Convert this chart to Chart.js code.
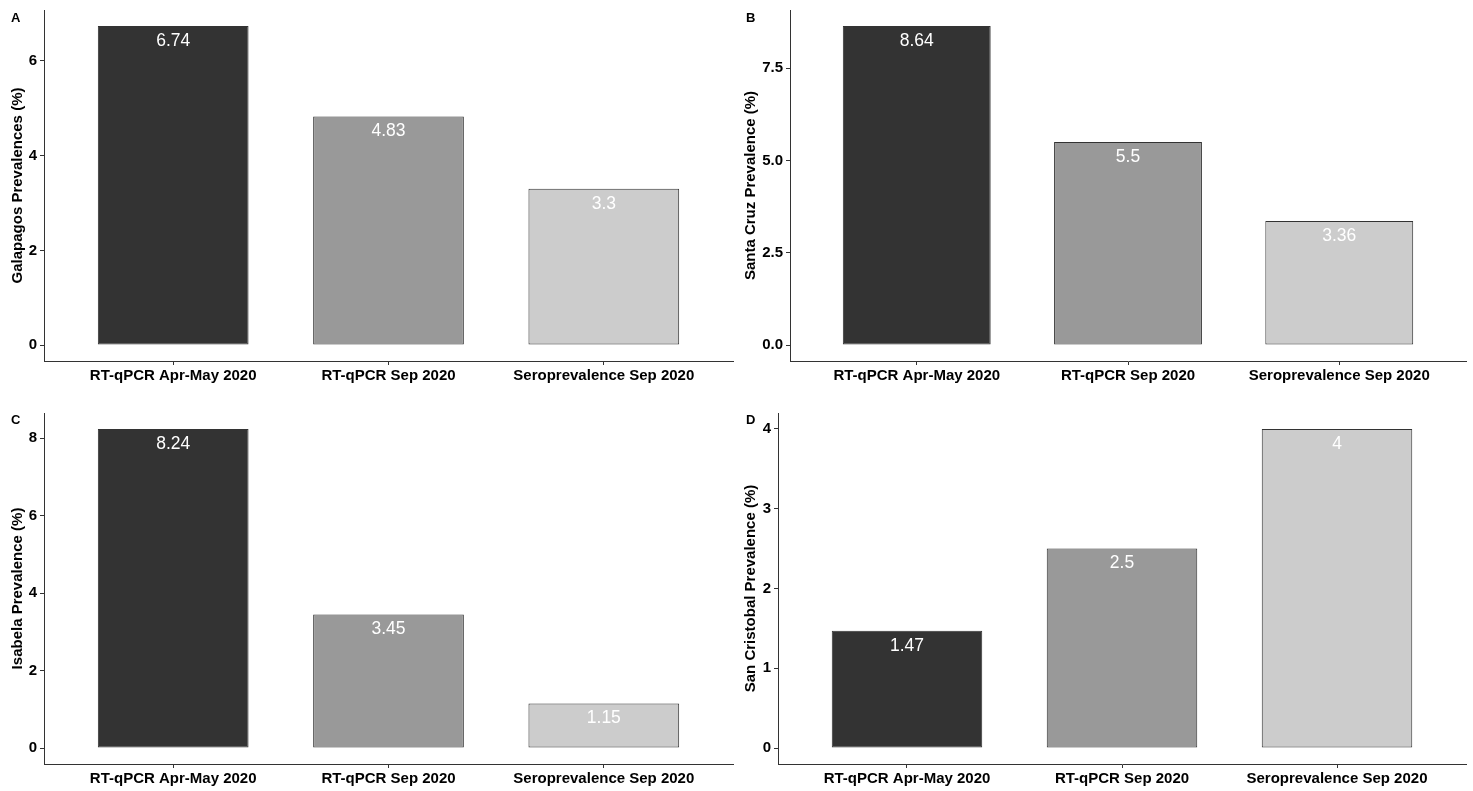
<!DOCTYPE html>
<html lang="en">
<head>
  <meta charset="UTF-8">
  <title>Prevalence panels</title>
  <script src="https://cdn.jsdelivr.net/npm/chart.js"></script>
  <style>
    html, body { margin: 0; padding: 0; background: #fff; }
    body { width: 1473px; height: 791px; position: relative; overflow: hidden; font-family: "Liberation Sans", Arial, sans-serif; }
    .panel { position: absolute; }
    .tag { position: absolute; font-weight: bold; font-size: 13px; color: #000; }
  </style>
</head>
<body>
  <div class="panel" style="left:0;top:0;width:740px;height:392px"><canvas id="chartA"></canvas></div>
  <div class="panel" style="left:733px;top:0;width:740px;height:392px"><canvas id="chartB"></canvas></div>
  <div class="panel" style="left:0;top:400px;width:740px;height:391px"><canvas id="chartC"></canvas></div>
  <div class="panel" style="left:733px;top:400px;width:740px;height:391px"><canvas id="chartD"></canvas></div>

  <div class="tag" style="left:11px;top:10px">A</div>
  <div class="tag" style="left:746px;top:10px">B</div>
  <div class="tag" style="left:11px;top:412px">C</div>
  <div class="tag" style="left:746px;top:412px">D</div>

  <script>
    // data
    const categories = ['RT-qPCR Apr-May 2020', 'RT-qPCR Sep 2020', 'Seroprevalence Sep 2020'];
    const galapagos = [6.74, 4.83, 3.3];
    const santaCruz = [8.64, 5.5, 3.36];
    const isabela = [8.24, 3.45, 1.15];
    const sanCristobal = [1.47, 2.5, 4];

    const ticksA = [0, 2, 4, 6];
    const ticksB = [0, 2.5, 5, 7.5];
    const ticksC = [0, 2, 4, 6, 8];
    const ticksD = [0, 1, 2, 3, 4];

    const barColors = ['#333333', '#999999', '#CCCCCC'];
    const FONT = '"Liberation Sans", Arial, sans-serif';

    // white value labels just inside the top of each bar
    const valueLabels = {
      id: 'valueLabels',
      afterDatasetsDraw(chart) {
        const ctx = chart.ctx;
        const ds = chart.data.datasets[0];
        ctx.save();
        ctx.font = '17.5px ' + FONT;
        ctx.fillStyle = '#ffffff';
        ctx.textAlign = 'center';
        ctx.textBaseline = 'middle';
        chart.getDatasetMeta(0).data.forEach((bar, i) => {
          ctx.fillText(String(ds.data[i].y), bar.x, bar.y + 15);
        });
        ctx.restore();
      }
    };

    function makePanel(id, values, yTicks, title, yWidth, padTop, xHeight, decimals) {
      const top = Math.max(...values);
      new Chart(document.getElementById(id), {
        type: 'bar',
        data: {
          datasets: [{
            data: values.map((v, i) => ({ x: i + 1, y: v })),
            backgroundColor: barColors,
            borderColor: '#333333',
            borderWidth: 1,
            borderSkipped: false,
            categoryPercentage: 1,
            barPercentage: 0.7
          }]
        },
        options: {
          responsive: true,
          maintainAspectRatio: false,
          animation: false,
          layout: { padding: { top: padTop, right: 7, left: 0, bottom: 0 } },
          plugins: { legend: { display: false }, tooltip: { enabled: false } },
          scales: {
            x: {
              type: 'linear',
              offset: false,
              min: 0.4,
              max: 3.6,
              afterBuildTicks: s => { s.ticks = categories.map((c, i) => ({ value: i + 1 })); },
              afterFit: s => { s.height = xHeight; s.paddingLeft = 0; s.paddingRight = 0; },
              grid: { display: true, offset: false, drawOnChartArea: false, tickLength: 4, tickColor: '#333', tickWidth: 1 },
              border: { display: true, color: '#333', width: 1 },
              ticks: {
                autoSkip: false, maxRotation: 0, padding: 2,
                color: '#000',
                font: { family: FONT, size: 15, weight: 'bold' },
                callback: v => categories[v - 1]
              }
            },
            y: {
              min: -0.05 * top,
              max: 1.05 * top,
              afterBuildTicks: s => { s.ticks = yTicks.map(v => ({ value: v })); },
              afterFit: s => { s.width = yWidth; s.paddingTop = 0; s.paddingBottom = 0; },
              grid: { display: true, drawOnChartArea: false, tickLength: 4, tickColor: '#333', tickWidth: 1 },
              border: { display: true, color: '#333', width: 1 },
              ticks: {
                padding: 3,
                color: '#000',
                font: { family: FONT, size: 15, weight: 'bold' },
                callback: v => v.toFixed(decimals)
              },
              title: {
                display: true,
                text: title,
                color: '#000',
                padding: { top: 9, bottom: 0 },
                font: { family: FONT, size: 15, weight: 'bold' }
              }
            }
          }
        },
        plugins: [valueLabels]
      });
    }

    makePanel('chartA', galapagos, ticksA, 'Galapagos Prevalences (%)', 44, 10, 31, 0);
    makePanel('chartB', santaCruz, ticksB, 'Santa Cruz Prevalence (%)', 57, 10, 31, 1);
    makePanel('chartC', isabela, ticksC, 'Isabela Prevalence (%)', 44, 13, 27, 0);
    makePanel('chartD', sanCristobal, ticksD, 'San Cristobal Prevalence (%)', 45, 13, 27, 0);
  </script>
</body>
</html>
